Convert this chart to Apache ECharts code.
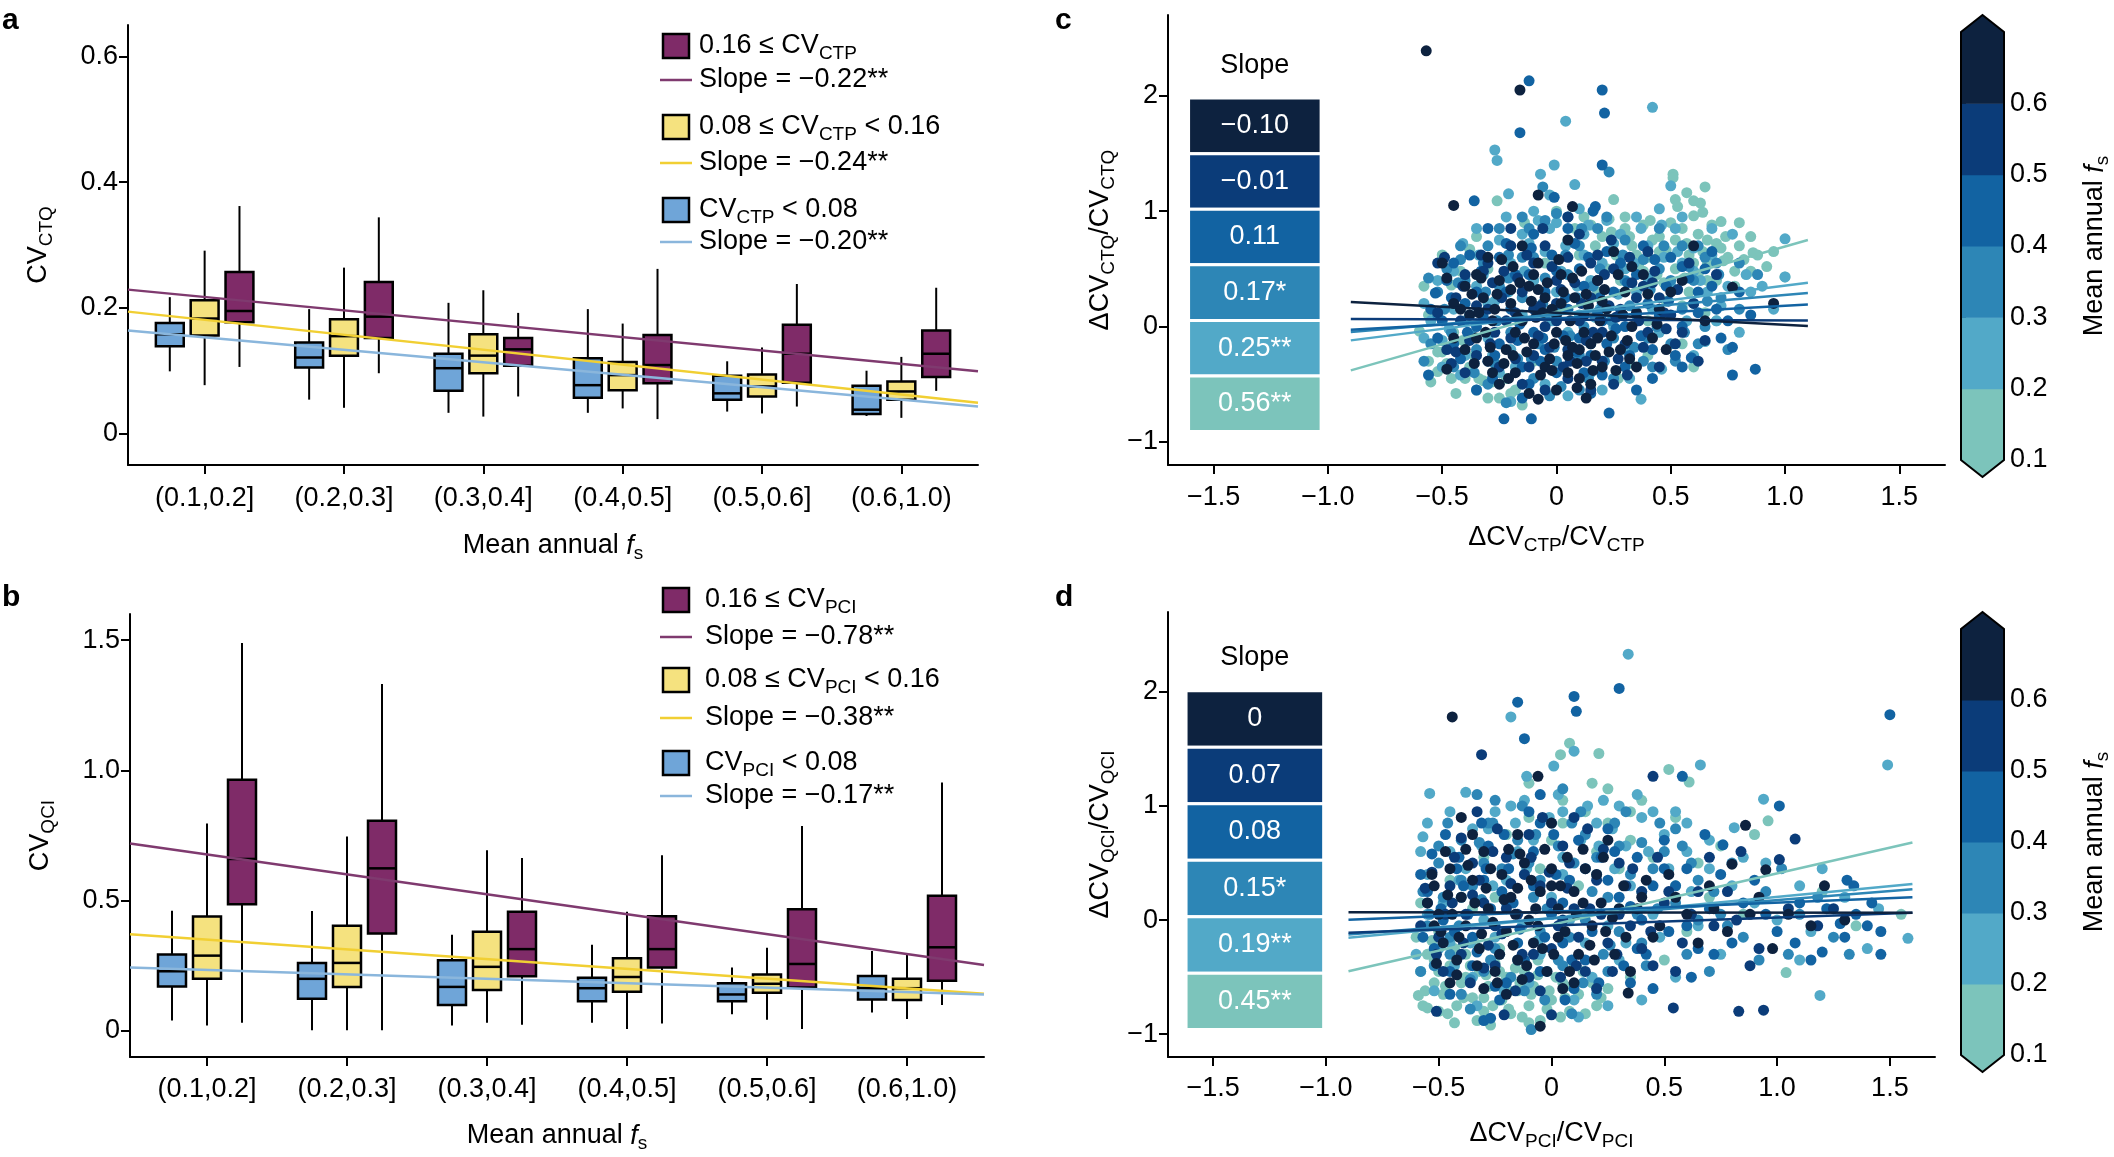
<!DOCTYPE html>
<html lang="en">
<head>
<meta charset="UTF-8">
<script src="https://cdn.jsdelivr.net/npm/echarts@6.0.0/dist/echarts.min.js"></script>
<style>
  html, body { margin: 0; padding: 0; background: #fff; }
  #main { width: 2114px; height: 1157px; }
</style>
<title>CV figure</title>
</head>
<body>
<div id="main"></div>
<script>
// ---------- data ----------
var fsCats = ['(0.1,0.2]', '(0.2,0.3]', '(0.3,0.4]', '(0.4,0.5]', '(0.5,0.6]', '(0.6,1.0)'];

// panel a, CV_CTQ boxes: [min, q1, median, q3, max] per fs class
var aLow = [[0.099,0.139,0.158,0.176,0.217],[0.054,0.105,0.121,0.145,0.198],[0.033,0.068,0.104,0.127,0.208],
            [0.033,0.057,0.077,0.120,0.198],[0.035,0.054,0.064,0.092,0.115],[0.028,0.031,0.038,0.076,0.100]];
var aMid = [[0.077,0.156,0.183,0.212,0.291],[0.041,0.124,0.155,0.182,0.264],[0.027,0.096,0.124,0.158,0.228],
            [0.040,0.069,0.093,0.114,0.175],[0.032,0.059,0.075,0.094,0.137],[0.025,0.054,0.067,0.083,0.122]];
var aHigh = [[0.106,0.177,0.195,0.257,0.362],[0.096,0.152,0.186,0.241,0.344],[0.059,0.108,0.134,0.152,0.192],
             [0.023,0.080,0.109,0.157,0.262],[0.043,0.081,0.127,0.173,0.238],[0.068,0.090,0.127,0.164,0.232]];
// regression lines (ends at the axis limits)
var aLineLow = [[0.45,0.164],[6.55,0.043]];
var aLineMid = [[0.45,0.194],[6.55,0.049]];
var aLineHigh = [[0.45,0.229],[6.55,0.099]];

// panel b, CV_QCI boxes
var bLow = [[0.040,0.171,0.229,0.293,0.461],[0.003,0.124,0.200,0.261,0.460],[0.021,0.100,0.169,0.271,0.369],
            [0.031,0.114,0.164,0.204,0.331],[0.064,0.114,0.140,0.183,0.243],[0.071,0.121,0.164,0.211,0.307]];
var bMid = [[0.021,0.200,0.289,0.439,0.796],[0.003,0.169,0.261,0.404,0.746],[0.031,0.157,0.246,0.381,0.693],
            [0.007,0.150,0.207,0.279,0.457],[0.043,0.147,0.181,0.217,0.319],[0.046,0.119,0.164,0.200,0.293]];
var bHigh = [[0.031,0.486,0.660,0.964,1.489],[0.003,0.374,0.624,0.807,1.331],[0.024,0.210,0.314,0.457,0.664],
             [0.029,0.243,0.314,0.440,0.674],[0.007,0.167,0.257,0.467,0.786],[0.100,0.193,0.321,0.519,0.953]];
var bLineLow = [[0.45,0.243],[6.55,0.140]];
var bLineMid = [[0.45,0.371],[6.55,0.143]];
var bLineHigh = [[0.45,0.719],[6.55,0.253]];

// panel c scatter, one array per mean annual fs class
var c_fs01 = [[0.51,1.32],[0.51,1.29],[0.65,1.21],[0.57,1.16],[0.60,1.09],[0.63,1.07],[0.64,0.99],[0.60,0.96],[0.52,1.10],[0.53,1.04],[0.25,1.10],[0.72,0.91],[0.80,0.90],[-0.26,1.09],[0.30,0.85],[0.38,0.88],[0.45,0.78],[0.55,0.85],[0.62,0.80],[0.70,0.72],[0.48,0.66],[0.58,0.62],[0.66,0.55],[0.75,0.60],[0.82,0.58],[0.88,0.62],[0.40,0.60],[0.33,0.70],[0.26,0.62],[0.20,0.78],[0.15,0.88],[0.52,0.50],[0.62,0.45],[0.70,0.40],[0.44,0.45],[0.36,0.52],[0.28,0.40],[0.78,0.48],[0.92,0.52],[0.86,0.64],[0.73,0.57],[0.66,0.75],[0.41,0.92],[0.23,0.93],[-0.14,0.90],[-0.60,-0.04],[-0.56,-0.30],[-0.52,-0.39],[-0.38,0.67],[-0.42,0.48],[-0.32,-0.47],[-0.28,-0.48],[-0.50,-0.22],[-0.45,-0.05],[-0.38,-0.35],[-0.35,-0.55],[-0.25,-0.62],[-0.18,-0.55],[-0.46,0.36],[-0.30,0.50],[0.32,-0.32],[0.27,-0.45],[0.10,0.62],[0.05,0.75],[-0.05,0.55],[0.18,0.30],[0.58,0.30],[0.48,0.22],[1.00,0.43],[0.65,0.12],[-0.10,-0.30],[0.05,-0.20],[0.55,-0.15],[0.40,0.05],
  [0.35,0.62],[0.42,0.75],[0.50,0.90],[0.57,0.72],[0.64,0.65],[0.68,0.88],[0.74,0.78],[0.80,0.70],[0.85,0.48],[0.47,0.38],[0.56,0.42],[0.30,0.95],[0.22,0.50],[0.12,0.95],[-0.55,-0.48],[-0.48,-0.32],[-0.44,-0.58],[-0.40,-0.45],[-0.36,-0.25],[-0.30,-0.62],[-0.22,-0.45],[-0.15,-0.68],[-0.58,0.35],[-0.50,0.62],[-0.35,0.78],[0.00,1.00],[0.95,0.65],[0.70,0.05],[0.40,-0.25],[0.60,-0.35],
  [0.32,0.78],[0.38,0.48],[0.45,0.65],[0.52,0.75],[0.60,0.55],[0.66,0.40],[0.72,0.68],[0.78,0.35],[0.24,0.82],[0.17,0.70],[-0.52,-0.22],[-0.46,-0.45],[-0.41,-0.12],[-0.34,-0.45],[-0.27,-0.32],[-0.20,-0.58],[-0.56,0.10],[0.55,0.18],[0.85,0.78],[0.08,0.85]];
var c_fs02 = [[0.42,1.90],[0.04,1.78],[-0.27,1.53],[-0.26,1.44],[-0.01,1.40],[-0.07,1.32],[0.08,1.23],[0.50,1.22],[-0.03,1.14],[-0.21,1.15],[1.00,0.76],[1.00,0.43],[0.65,-0.13],[0.46,-0.37],[0.37,-0.63],[0.35,0.95],[0.45,1.02],[0.55,0.95],[0.68,0.85],[-0.10,1.00],[0.10,1.02],[-0.35,0.85],[-0.25,0.75],[-0.15,0.80],[0.00,0.90],[0.12,0.80],[0.25,0.72],[0.40,0.70],[0.60,0.68],[0.75,0.35],[0.85,0.30],[0.60,0.20],[0.50,0.35],[0.35,0.30],[0.20,0.55],[-0.05,0.65],[-0.20,0.55],[-0.35,0.35],[-0.45,0.15],[-0.55,0.05],[-0.50,-0.12],[-0.40,-0.25],[-0.30,-0.10],[-0.15,0.10],[0.00,0.30],[0.10,0.10],[0.25,0.00],[0.45,-0.05],[0.60,-0.25],[0.30,-0.20],[0.15,-0.40],[-0.05,-0.50],[-0.25,-0.40],[-0.42,-0.42],[-0.20,-0.65],[0.05,-0.60],[0.20,-0.55],[0.70,0.05],[0.80,-0.05],[0.95,0.15],[-0.58,0.20],[0.30,0.50],[0.15,0.40],[-0.10,0.40],[-0.30,0.20],[0.55,0.55],[0.05,-0.05],[-0.20,-0.20],
  [-0.52,0.40],[-0.47,-0.02],[-0.41,0.72],[-0.36,-0.32],[-0.32,0.45],[-0.27,0.22],[-0.22,0.95],[-0.18,-0.35],[-0.12,0.72],[-0.08,-0.12],[-0.03,0.85],[0.02,0.48],[0.07,-0.28],[0.12,0.62],[0.17,0.08],[0.22,0.92],[0.27,0.28],[0.32,-0.45],[0.37,0.85],[0.42,0.15],[0.47,0.60],[0.52,0.85],[0.57,0.05],[0.63,0.40],[0.68,0.62],[0.72,0.18],[0.77,0.80],[0.83,0.45],[0.90,0.35],[-0.58,-0.10],
  [-0.45,0.48],[-0.40,0.05],[-0.34,0.62],[-0.28,-0.25],[-0.21,0.30],[-0.14,0.48],[-0.08,0.92],[-0.02,0.05],[0.04,0.70],[0.09,0.35],[0.14,0.88],[0.19,0.15],[0.28,0.80],[0.34,0.55],[0.40,0.42],[0.46,0.88],[0.53,0.65],[0.60,0.48],[0.66,0.30],[-0.50,-0.35]];
var c_fs03 = [[0.23,1.34],[-0.06,1.21],[-0.22,-0.66],[-0.03,-0.60],[-0.48,0.50],[-0.40,0.40],[-0.30,0.70],[-0.15,0.95],[0.00,0.98],[0.18,0.85],[0.30,0.75],[0.45,0.85],[0.55,0.70],[0.65,0.60],[0.72,0.25],[0.80,0.15],[0.65,0.00],[0.50,-0.15],[0.38,-0.30],[0.25,-0.45],[0.10,-0.55],[-0.10,-0.45],[-0.30,-0.50],[-0.45,-0.35],[-0.55,-0.15],[-0.52,0.30],[-0.38,0.10],[-0.25,0.35],[-0.10,0.60],[0.05,0.45],[0.20,0.20],[0.35,0.10],[0.45,0.50],[0.60,0.40],[0.15,-0.15],[-0.05,0.10],[-0.20,-0.05],[-0.35,-0.20],[0.00,-0.30],[0.30,0.40],[0.40,-0.10],[0.55,0.15],[-0.15,0.25],[0.10,0.70],[-0.25,0.85],[0.25,-0.10],[0.88,0.45],[0.75,-0.20],[-0.42,0.70],[0.12,0.00],[-0.08,-0.15],
  [-0.52,0.10],[-0.46,-0.05],[-0.42,0.58],[-0.36,-0.40],[-0.31,0.30],[-0.26,0.05],[-0.21,0.62],[-0.17,-0.28],[-0.12,0.85],[-0.06,0.20],[-0.01,-0.18],[0.04,0.62],[0.09,0.25],[0.14,-0.45],[0.19,0.50],[0.24,0.05],[0.29,0.62],[0.34,-0.18],[0.41,0.32],[0.47,0.70],[0.52,-0.30],[0.58,0.52],[0.66,0.22],[0.71,0.45],[0.80,0.55],[-0.05,0.92],[0.22,0.95],[0.62,-0.15],[-0.58,-0.30],[0.10,-0.25],
  [-0.49,0.15],[-0.43,0.38],[-0.37,-0.08],[-0.32,0.55],[-0.27,-0.32],[-0.21,0.42],[-0.15,0.60],[-0.11,-0.28],[-0.05,0.42],[0.01,0.15],[0.06,-0.08],[0.11,0.85],[0.16,0.35],[0.21,-0.30],[0.27,0.48],[0.32,0.18],[0.38,0.58],[0.44,0.00],[0.50,0.40],[0.56,-0.05],[0.62,0.70],[0.70,0.55],[-0.56,0.42],[0.02,-0.52],[0.42,-0.35]];
var c_fs04 = [[-0.12,2.13],[0.20,2.05],[0.21,1.85],[-0.16,1.68],[0.20,1.40],[-0.01,1.12],[-0.36,1.09],[0.17,1.04],[0.16,1.00],[0.77,-0.42],[0.87,-0.37],[0.59,-0.27],[0.23,-0.75],[-0.23,-0.80],[-0.11,-0.80],[-0.56,-0.42],[-0.53,0.29],[0.77,-0.18],[-0.45,0.55],[-0.35,0.30],[-0.25,0.60],[-0.10,0.80],[0.05,0.85],[0.22,0.65],[0.35,0.45],[0.50,0.60],[0.62,0.30],[0.70,0.15],[0.55,0.00],[0.42,-0.20],[0.30,-0.35],[0.15,-0.25],[0.00,-0.40],[-0.15,-0.35],[-0.30,-0.30],[-0.45,-0.15],[-0.50,0.05],[-0.40,0.20],[-0.20,0.15],[-0.05,0.30],[0.10,0.50],[0.25,0.30],[0.40,0.20],[0.20,0.05],[0.05,0.15],[-0.10,-0.05],[-0.25,-0.15],[0.30,0.00],[0.48,0.35],[-0.35,0.00],[0.65,0.50],[0.80,0.30],[0.72,-0.10],[0.10,-0.10],[-0.18,0.45],[0.12,0.35],[-0.05,-0.20],[0.35,-0.55],[-0.35,-0.55],
  [-0.48,0.40],[-0.42,-0.28],[-0.38,0.62],[-0.32,0.08],[-0.28,-0.45],[-0.22,0.72],[-0.17,-0.12],[-0.12,0.45],[-0.07,-0.30],[-0.02,0.62],[0.03,-0.08],[0.08,0.72],[0.12,-0.40],[0.18,0.12],[0.22,-0.15],[0.28,0.55],[0.32,-0.25],[0.38,0.70],[0.45,0.10],[0.52,-0.25],[0.58,0.42],[0.68,0.65],[0.75,0.05],[-0.55,0.15],[0.05,0.95],[-0.30,0.85],[0.15,-0.58],[-0.15,-0.62],[0.42,-0.45],[0.85,0.10],
  [-0.46,0.25],[-0.39,-0.05],[-0.33,0.48],[-0.27,-0.25],[-0.22,0.30],[-0.16,0.02],[-0.11,0.68],[-0.06,-0.10],[0.00,0.48],[0.04,0.25],[0.09,-0.22],[0.14,0.60],[0.19,0.25],[0.26,-0.02],[0.31,0.38],[0.37,-0.08],[0.43,0.58],[0.49,0.22],[0.55,0.52],[0.62,0.12],[-0.52,-0.10],[-0.12,-0.50],[0.20,-0.42],[0.55,-0.35],[0.68,0.35]];
var c_fs05 = [[-0.49,0.60],[-0.52,0.55],[-0.40,0.45],[-0.30,0.55],[-0.20,0.70],[-0.10,0.55],[0.05,0.60],[0.15,0.55],[0.25,0.50],[0.38,0.35],[0.45,0.25],[0.50,0.10],[0.40,-0.05],[0.30,-0.15],[0.20,-0.30],[0.05,-0.20],[-0.10,-0.25],[-0.25,-0.35],[-0.40,-0.40],[-0.48,-0.20],[-0.42,0.05],[-0.30,0.15],[-0.15,0.30],[0.00,0.40],[0.15,0.25],[0.28,0.15],[0.10,0.05],[-0.05,0.00],[-0.20,-0.10],[0.20,-0.05],[0.35,0.25],[-0.10,0.15],[0.05,-0.45],[-0.15,-0.50],[0.25,-0.50],[0.45,-0.35],[0.60,0.20],[0.70,0.45],[-0.35,-0.25],[0.00,0.20],[-0.28,0.38],[0.32,0.60],[0.55,-0.05],[0.10,0.80],[-0.05,0.70],[0.62,-0.30],[0.18,0.40],[-0.22,0.05],
  [-0.44,0.25],[-0.38,-0.12],[-0.33,0.62],[-0.27,-0.05],[-0.23,0.48],[-0.18,-0.28],[-0.13,0.62],[-0.08,-0.08],[-0.02,0.52],[0.03,-0.35],[0.08,0.38],[0.13,-0.12],[0.18,0.62],[0.23,0.18],[0.27,-0.28],[0.33,0.38],[0.38,-0.18],[0.43,0.48],[0.48,-0.02],[0.53,0.32],[-0.46,-0.32],[-0.05,-0.55],[0.15,-0.55],[0.40,0.65],[-0.20,0.85],[0.05,0.95],[0.58,0.55],[0.65,-0.12],[-0.52,0.12],[0.00,0.05],
  [-0.41,0.35],[-0.35,0.18],[-0.29,-0.15],[-0.24,0.25],[-0.17,0.42],[-0.12,-0.35],[-0.07,0.18],[-0.03,-0.18],[0.02,0.32],[0.06,-0.30],[0.11,0.20],[0.16,-0.05],[0.21,0.45],[0.26,0.08],[0.31,-0.42],[0.36,0.05],[0.42,0.38],[0.47,0.12],[0.52,-0.15],[-0.44,-0.22],[-0.32,0.48],[-0.06,0.85],[0.24,0.75],[0.13,-0.30],[-0.18,0.12]];
var c_fs06 = [[-0.57,2.39],[-0.16,2.05],[-0.08,1.14],[-0.45,1.05],[0.07,1.04],[0.77,0.34],[0.95,0.20],[-0.08,-0.63],[0.09,-0.53],[-0.48,-0.37],[-0.50,0.55],[-0.48,0.42],[-0.45,0.20],[-0.40,0.35],[-0.38,0.10],[-0.35,-0.10],[-0.32,0.25],[-0.30,-0.30],[-0.28,0.05],[-0.25,0.40],[-0.22,-0.20],[-0.20,0.20],[-0.18,-0.40],[-0.15,0.05],[-0.12,0.35],[-0.10,-0.15],[-0.08,0.55],[-0.05,-0.35],[-0.02,0.15],[0.00,-0.05],[0.02,0.45],[0.05,-0.25],[0.08,0.25],[0.10,-0.45],[0.12,0.10],[0.15,-0.15],[0.18,0.40],[0.20,-0.35],[0.22,0.15],[0.25,0.65],[0.28,-0.20],[0.30,0.30],[0.33,0.00],[0.38,0.45],[0.42,-0.10],[0.45,0.15],[0.50,0.30],[0.55,0.40],[0.60,0.70],[0.65,0.05],[-0.30,0.60],[-0.15,0.70],[0.05,0.75],[-0.25,-0.50],[0.00,-0.55],[0.15,-0.50],[-0.40,-0.20],[-0.05,0.25],[0.12,-0.05],[-0.18,-0.05],[0.35,-0.35],[-0.35,0.45],
  [-0.33,0.42],[-0.27,0.15],[-0.23,-0.32],[-0.19,0.52],[-0.17,0.08],[-0.13,-0.22],[-0.11,0.22],[-0.07,-0.42],[-0.04,0.38],[-0.01,-0.15],[0.03,0.30],[0.06,0.05],[0.09,-0.32],[0.11,0.48],[0.14,0.18],[0.17,-0.25],[0.21,0.32],[0.24,-0.08],[0.27,0.45],[0.31,-0.12],[0.35,0.12],[0.40,0.28],[-0.36,-0.32],[-0.42,0.15],[-0.29,-0.18],[-0.26,0.28],[-0.21,-0.45],[-0.16,0.38],[-0.09,0.08],[-0.03,-0.28],[0.01,0.58],[0.07,-0.18],[0.19,0.05],[0.26,-0.38],[0.33,0.52],[0.44,0.02],[-0.12,-0.58],[0.13,-0.62],[0.48,-0.20],[-0.45,-0.10],
  [-0.37,0.28],[-0.31,-0.05],[-0.24,0.58],[-0.20,0.32],[-0.14,-0.10],[-0.10,0.45],[-0.06,0.12],[-0.02,-0.38],[0.02,0.20],[0.04,-0.12],[0.07,0.42],[0.10,-0.20],[0.13,0.28],[0.16,-0.38],[0.20,0.22],[0.23,-0.22],[0.29,0.10],[0.32,-0.28],[-0.34,0.12],[-0.28,-0.40],[-0.19,-0.25],[-0.08,0.32],[0.00,0.10],[0.05,-0.40],[0.18,-0.10]];
// fitted lines per class, ends at x = -0.9 and 1.1
var cLines = [[[-0.9,-0.380],[1.1,0.750]],[[-0.9,-0.120],[1.1,0.380]],[[-0.9,-0.047],[1.1,0.290]],
              [[-0.9,-0.028],[1.1,0.190]],[[-0.9,0.066],[1.1,0.052]],[[-0.9,0.213],[1.1,0.005]]];
var cSlopes = ['\u22120.10', '\u22120.01', '0.11', '0.17*', '0.25**', '0.56**']; // top row = highest fs

// panel d scatter
var d_fs01 = [[0.08,1.55],[0.04,1.45],[0.21,1.46],[0.52,1.32],[0.61,1.21],[0.96,0.87],[1.04,-0.46],[-0.55,-0.77],[-0.59,-0.66],[-0.50,-0.80],[-0.58,-0.45],[-0.55,-0.30],[-0.52,-0.55],[-0.48,-0.65],[-0.45,-0.40],[-0.42,-0.75],[-0.40,-0.55],[-0.38,-0.30],[-0.35,-0.68],[-0.32,-0.45],[-0.30,-0.80],[-0.28,-0.58],[-0.25,-0.38],[-0.22,-0.70],[-0.20,-0.50],[-0.18,-0.82],[-0.15,-0.62],[-0.12,-0.45],[-0.10,-0.75],[-0.08,-0.58],[-0.05,-0.88],[0.00,-0.70],[0.05,-0.55],[0.08,-0.80],[0.12,-0.65],[-0.60,-0.15],[-0.50,-0.10],[0.20,-0.75],[-0.45,0.35],[-0.30,0.55],[-0.20,0.75],[-0.10,0.90],[0.05,1.05],[0.15,0.95],[0.25,0.85],[0.00,0.70],[-0.05,0.45],[0.20,0.60],[0.35,0.70],[0.45,0.55],[0.55,0.30],[0.65,0.50],[0.70,0.20],[0.40,0.25],[0.30,0.10],[0.60,-0.10],[0.85,0.05],[0.50,-0.35],[0.35,-0.50],[-0.35,0.10],[0.12,0.30],[0.75,0.65],[0.90,0.75],[1.20,0.25],[1.35,-0.05],[1.55,0.05],[0.18,1.20],[0.25,1.15],
  [-0.56,-0.62],[-0.53,-0.18],[-0.50,-0.45],[-0.46,-0.82],[-0.43,-0.25],[-0.39,-0.68],[-0.36,-0.40],[-0.33,-0.88],[-0.29,-0.48],[-0.26,-0.75],[-0.23,-0.25],[-0.19,-0.62],[-0.16,-0.42],[-0.13,-0.85],[-0.09,-0.65],[-0.06,-0.35],[-0.02,-0.78],[0.02,-0.50],[0.06,-0.68],[0.10,-0.40],[0.15,-0.82],[0.18,-0.55],[0.25,-0.60],[-0.10,1.20],[0.40,1.05],[0.55,0.90],[0.30,0.45],[-0.25,0.20],[0.15,0.05],[-0.58,0.15],
  [-0.57,-0.75],[-0.52,-0.35],[-0.47,-0.58],[-0.43,-0.90],[-0.38,-0.50],[-0.34,-0.20],[-0.30,-0.68],[-0.27,-0.92],[-0.23,-0.45],[-0.19,-0.78],[-0.14,-0.55],[-0.10,-0.90],[-0.06,-0.48],[-0.01,-0.62],[0.04,-0.85],[0.09,-0.58],[0.14,-0.45],[0.22,-0.68],[0.35,0.95],[0.05,0.85]];
var d_fs02 = [[0.34,2.33],[-0.18,1.78],[1.49,1.36],[0.10,1.48],[0.01,1.35],[-0.11,1.26],[0.66,1.36],[-0.54,1.11],[-0.38,1.12],[0.94,1.06],[0.81,0.81],[-0.57,0.73],[1.20,0.45],[1.58,-0.16],[1.19,-0.66],[0.12,-0.85],[0.40,-0.70],[-0.55,0.40],[-0.45,0.60],[-0.35,0.80],[-0.25,0.95],[-0.12,1.05],[0.05,0.95],[0.20,0.85],[0.30,1.00],[0.40,0.90],[0.50,0.75],[0.60,0.60],[0.70,0.45],[0.80,0.30],[0.90,0.15],[1.00,0.00],[1.15,-0.10],[1.30,0.20],[1.40,-0.25],[0.75,-0.30],[0.55,-0.50],[0.30,-0.35],[0.15,-0.20],[-0.05,-0.30],[-0.25,-0.15],[-0.45,-0.20],[-0.55,0.05],[-0.40,0.20],[-0.20,0.35],[0.00,0.20],[0.20,0.40],[0.35,0.30],[0.45,0.05],[0.25,-0.05],[0.05,0.55],[-0.15,0.60],[-0.30,0.00],[-0.35,-0.50],[-0.10,-0.55],[0.60,0.85],[0.95,0.50],[1.10,0.30],[0.65,-0.05],
  [-0.58,0.60],[-0.52,-0.62],[-0.48,0.15],[-0.43,-0.40],[-0.38,0.45],[-0.33,-0.75],[-0.28,0.80],[-0.23,-0.30],[-0.18,1.00],[-0.13,-0.05],[-0.08,0.70],[-0.02,-0.45],[0.03,1.10],[0.08,0.00],[0.13,0.70],[0.18,-0.50],[0.23,1.05],[0.28,0.45],[0.33,-0.20],[0.38,1.10],[0.43,0.60],[0.48,-0.15],[0.55,0.95],[0.62,0.25],[0.70,0.70],[0.85,0.55],[1.10,-0.35],[1.45,0.10],[-0.60,-0.30],[0.25,-0.75],
  [-0.55,0.85],[-0.50,-0.25],[-0.45,0.95],[-0.41,0.35],[-0.36,-0.20],[-0.31,0.65],[-0.26,0.30],[-0.21,-0.62],[-0.16,0.85],[-0.11,0.45],[-0.06,-0.18],[-0.01,0.90],[0.05,0.40],[0.10,-0.70],[0.16,1.00],[0.21,0.65],[0.27,0.80],[0.33,0.65],[0.45,0.95],[0.52,0.45]];
var d_fs03 = [[-0.09,-0.96],[0.09,-0.82],[-0.50,0.50],[-0.40,0.70],[-0.28,0.85],[-0.15,0.70],[0.00,0.85],[0.15,0.75],[0.30,0.65],[0.45,0.45],[0.55,0.15],[0.65,0.35],[0.75,0.05],[0.85,-0.15],[0.95,0.25],[1.10,0.05],[1.25,-0.15],[0.60,-0.30],[0.40,-0.20],[0.25,-0.45],[0.05,-0.40],[-0.15,-0.35],[-0.30,-0.45],[-0.45,-0.30],[-0.55,-0.05],[-0.48,0.20],[-0.35,0.30],[-0.20,0.15],[-0.05,0.35],[0.10,0.50],[0.25,0.20],[0.38,0.05],[0.15,0.00],[-0.05,-0.10],[-0.25,-0.25],[0.20,-0.65],[-0.40,-0.65],[0.50,0.60],[0.80,0.50],[-0.10,0.50],[0.30,-0.10],[1.05,-0.30],[-0.30,0.50],[0.70,-0.45],
  [-0.57,0.25],[-0.52,-0.40],[-0.46,0.85],[-0.41,-0.05],[-0.36,-0.78],[-0.32,0.68],[-0.27,-0.35],[-0.22,0.45],[-0.18,-0.50],[-0.13,1.00],[-0.08,0.20],[-0.03,-0.70],[0.03,0.65],[0.08,-0.15],[0.13,0.95],[0.18,0.25],[0.23,-0.30],[0.28,0.85],[0.35,0.40],[0.42,-0.40],[0.48,0.85],[0.58,0.65],[0.65,0.00],[0.78,-0.05],[0.92,-0.35],[1.02,0.45],[1.18,0.20],[1.32,-0.30],[0.05,1.15],[-0.25,1.05],
  [-0.58,-0.45],[-0.54,0.05],[-0.50,0.65],[-0.45,-0.15],[-0.40,0.35],[-0.36,-0.52],[-0.31,0.18],[-0.26,0.85],[-0.22,-0.12],[-0.17,0.58],[-0.12,-0.62],[-0.07,0.75],[-0.02,0.10],[0.03,-0.35],[0.09,0.85],[0.14,-0.55],[0.20,0.55],[0.26,-0.22],[0.33,0.95],[0.40,0.68],[0.47,0.10],[0.55,0.80],[0.62,0.50],[0.72,0.25],[-0.33,1.10]];
var d_fs04 = [[0.30,2.03],[0.10,1.96],[0.11,1.83],[-0.15,1.91],[-0.12,1.59],[1.50,1.80],[0.58,1.26],[1.01,1.00],[0.76,0.66],[1.31,0.35],[1.34,0.30],[1.46,-0.10],[1.40,-0.05],[1.46,-0.30],[1.30,-0.15],[1.20,-0.28],[1.28,-0.03],[1.35,0.05],[-0.30,-0.88],[-0.27,-0.86],[-0.55,0.25],[-0.48,0.00],[-0.42,0.45],[-0.35,-0.15],[-0.28,0.65],[-0.22,0.25],[-0.15,-0.20],[-0.08,0.60],[0.00,0.05],[0.08,0.35],[0.15,-0.35],[0.22,0.55],[0.30,0.20],[0.38,-0.25],[0.45,0.30],[0.52,-0.10],[0.60,0.45],[0.70,0.10],[0.80,-0.20],[0.90,0.35],[1.00,-0.10],[1.10,0.15],[1.15,-0.35],[0.35,-0.55],[0.10,-0.60],[-0.20,-0.55],[-0.45,-0.45],[-0.05,0.85],[0.25,0.80],[0.50,0.70],[0.65,-0.25],[0.85,0.15],[-0.30,0.35],[0.05,-0.20],[0.40,0.00],
  [-0.58,0.40],[-0.52,-0.25],[-0.47,0.75],[-0.43,-0.10],[-0.39,0.30],[-0.35,-0.40],[-0.31,0.85],[-0.27,0.10],[-0.23,-0.70],[-0.19,0.45],[-0.14,-0.08],[-0.10,0.95],[-0.05,-0.45],[0.02,0.40],[0.06,-0.70],[0.12,0.70],[0.18,-0.10],[0.25,0.35],[0.32,-0.40],[0.38,0.55],[0.45,-0.60],[0.55,0.30],[0.62,-0.50],[0.75,0.40],[0.95,0.05],[1.08,-0.20],[1.22,0.10],[1.42,0.15],[0.68,0.75],[-0.05,1.10],
  [-0.57,-0.15],[-0.53,0.58],[-0.49,0.10],[-0.45,-0.65],[-0.41,0.55],[-0.37,0.05],[-0.33,-0.28],[-0.29,0.45],[-0.25,-0.58],[-0.21,0.75],[-0.17,0.15],[-0.12,-0.35],[-0.08,0.30],[-0.03,-0.15],[0.01,0.75],[0.05,0.15],[0.09,-0.35],[0.15,0.45],[0.21,-0.55],[0.28,0.60],[0.35,0.12],[0.42,-0.30],[0.50,0.45],[0.60,-0.05],[0.72,-0.30]];
var d_fs05 = [[-0.31,1.45],[0.45,1.26],[1.08,0.71],[0.84,0.60],[1.01,0.53],[0.94,-0.79],[0.83,-0.80],[0.54,-0.77],[0.00,-0.83],[-0.21,-0.83],[-0.51,-0.80],[-0.55,0.15],[-0.50,-0.15],[-0.45,0.30],[-0.40,-0.30],[-0.35,0.50],[-0.30,0.15],[-0.25,-0.40],[-0.20,0.55],[-0.15,0.05],[-0.10,-0.50],[-0.05,0.30],[0.00,-0.25],[0.05,0.65],[0.10,0.10],[0.15,-0.45],[0.20,0.35],[0.25,-0.20],[0.30,0.50],[0.35,-0.05],[0.40,0.25],[0.45,-0.40],[0.50,0.15],[0.58,-0.20],[0.65,0.25],[0.72,-0.05],[0.82,0.00],[0.92,-0.25],[1.05,0.10],[1.18,-0.05],[-0.38,0.05],[-0.10,0.75],[0.20,-0.60],[0.05,0.00],[-0.25,-0.05],[0.30,0.05],
  [-0.58,-0.05],[-0.53,0.42],[-0.48,-0.45],[-0.44,0.15],[-0.40,0.72],[-0.36,-0.55],[-0.32,0.35],[-0.28,-0.22],[-0.24,0.80],[-0.20,0.10],[-0.16,-0.62],[-0.12,0.40],[-0.08,-0.30],[-0.04,0.90],[0.00,0.15],[0.04,-0.50],[0.08,0.50],[0.12,-0.15],[0.16,0.80],[0.22,0.05],[0.27,-0.45],[0.33,0.30],[0.40,-0.25],[0.47,0.55],[0.55,-0.45],[0.62,0.05],[0.70,0.55],[0.78,0.25],[0.88,-0.40],[1.25,0.10],
  [-0.56,0.28],[-0.51,-0.30],[-0.47,0.05],[-0.43,0.55],[-0.39,-0.20],[-0.35,0.22],[-0.30,-0.42],[-0.26,0.60],[-0.22,-0.12],[-0.18,0.32],[-0.13,-0.30],[-0.09,0.55],[-0.05,-0.62],[-0.01,0.42],[0.03,-0.05],[0.07,0.28],[0.11,-0.40],[0.17,0.10],[0.23,0.62],[0.29,-0.30],[0.36,0.45],[0.44,-0.10],[0.52,0.25],[-0.33,0.95],[0.10,0.90]];
var d_fs06 = [[-0.44,1.78],[-0.06,1.26],[0.86,0.83],[0.80,0.49],[0.95,0.44],[1.21,0.30],[0.98,-0.25],[0.34,-0.64],[-0.05,-0.93],[1.30,0.00],[1.15,-0.05],[-0.52,0.30],[-0.50,0.05],[-0.48,-0.20],[-0.45,0.45],[-0.42,-0.35],[-0.40,0.20],[-0.38,-0.05],[-0.35,0.35],[-0.32,-0.25],[-0.30,0.60],[-0.28,0.10],[-0.25,-0.45],[-0.22,0.40],[-0.20,-0.10],[-0.18,0.20],[-0.15,-0.35],[-0.12,0.50],[-0.10,0.00],[-0.08,-0.20],[-0.05,0.25],[-0.02,-0.45],[0.00,0.45],[0.03,0.10],[0.06,-0.10],[0.10,0.25],[0.12,-0.30],[0.15,0.45],[0.18,-0.05],[0.22,0.15],[0.28,-0.30],[0.32,0.30],[0.38,0.10],[0.45,-0.15],[0.52,0.40],[0.60,0.05],[0.70,0.30],[0.78,-0.10],[0.88,0.05],[-0.45,-0.55],[-0.15,0.75],[0.05,-0.60],[-0.35,0.75],
  [-0.55,0.15],[-0.51,-0.38],[-0.47,0.60],[-0.44,0.05],[-0.41,-0.15],[-0.37,0.48],[-0.33,-0.40],[-0.29,0.28],[-0.26,-0.02],[-0.23,-0.30],[-0.19,0.62],[-0.16,0.05],[-0.13,-0.52],[-0.09,0.35],[-0.06,-0.05],[-0.03,0.62],[0.01,-0.30],[0.04,0.30],[0.08,-0.45],[0.11,0.05],[0.14,0.62],[0.17,-0.22],[0.20,0.40],[0.24,-0.10],[0.30,0.10],[0.35,-0.45],[0.42,0.35],[0.48,-0.05],[-0.40,0.90],[-0.20,-0.65],[0.00,0.85],[0.25,0.70],[-0.52,-0.05],[-0.30,-0.60],[0.55,0.20],[0.65,-0.20],[0.72,0.10],[1.05,0.05],[0.92,0.20],[-0.15,0.28],
  [-0.53,0.40],[-0.49,-0.10],[-0.46,0.22],[-0.42,-0.48],[-0.38,0.62],[-0.34,0.15],[-0.31,-0.12],[-0.27,0.45],[-0.24,-0.55],[-0.21,0.18],[-0.17,-0.22],[-0.14,0.58],[-0.11,-0.40],[-0.07,0.10],[-0.04,-0.25],[0.00,0.30],[0.03,-0.15],[0.07,0.55],[0.10,-0.55],[0.14,0.15],[0.19,-0.35],[0.23,0.55],[0.27,0.02],[0.33,-0.15],[0.40,0.20]];
var dLines = [[[-0.9,-0.448],[1.6,0.680]],[[-0.9,-0.154],[1.6,0.317]],[[-0.9,-0.127],[1.6,0.271]],
              [[-0.9,0.003],[1.6,0.200]],[[-0.9,-0.111],[1.6,0.065]],[[-0.9,0.069],[1.6,0.065]]];
var dSlopes = ['0', '0.07', '0.08', '0.15*', '0.19**', '0.45**'];

// colour bar classes of mean annual fs
var fsBands = [[0.1,0.2],[0.2,0.3],[0.3,0.4],[0.4,0.5],[0.5,0.6],[0.6,0.7]];

// ---------- style ----------
var FONT = "'Liberation Sans', Arial, Helvetica, sans-serif";
var FS = 27;
var fsColors = ['#7cc4bb', '#52a9c8', '#2d86b6', '#1263a2', '#0b3c79', '#0d223f'];
var boxColors = { low: '#6fa5d8', mid: '#f5e27f', high: '#7f2b68' };
var fitColors = { low: '#8ab6dc', mid: '#f1cf33', high: '#7f3a6f' };
var RICH = {
    sub: { fontSize: 19, lineHeight: 15, verticalAlign: 'bottom', fontFamily: FONT, color: '#000' },
    it: { fontSize: FS, fontStyle: 'italic', fontFamily: FONT, color: '#000', lineHeight: 34 }
};

var chart = echarts.init(document.getElementById('main'), null, { renderer: 'canvas' });

function minus(v) { return String(v).replace('-', '\u2212'); }

function valueAxis(idx, min, max, ticks, fmt, extra, labelMargin, tickLen) {
    var ax = {
        type: 'value', gridIndex: idx, min: min, max: max,
        axisLine: { show: true, onZero: false, lineStyle: { color: '#000', width: 2 } },
        axisTick: { show: true, length: tickLen || 9, customValues: ticks, lineStyle: { color: '#000', width: 2 } },
        axisLabel: { customValues: ticks, formatter: fmt, color: '#000', fontSize: FS, fontFamily: FONT, margin: labelMargin || 10 },
        splitLine: { show: false },
        nameTextStyle: { fontSize: FS, fontFamily: FONT, color: '#000', lineHeight: 34, rich: RICH }
    };
    for (var k in extra) ax[k] = extra[k];
    return ax;
}

// box with whiskers, offset in x-axis units from the class tick
function boxRender(offset, color) {
    return function (params, api) {
        var x = api.value(0) + offset;
        var half = api.size([0.1, 0])[0];
        var pMin = api.coord([x, api.value(1)]);
        var pQ1 = api.coord([x, api.value(2)]);
        var pMed = api.coord([x, api.value(3)]);
        var pQ3 = api.coord([x, api.value(4)]);
        var pMax = api.coord([x, api.value(5)]);
        return {
            type: 'group',
            children: [
                { type: 'line', shape: { x1: pMax[0], y1: pMax[1], x2: pQ3[0], y2: pQ3[1] }, style: { stroke: '#000', lineWidth: 2 } },
                { type: 'line', shape: { x1: pQ1[0], y1: pQ1[1], x2: pMin[0], y2: pMin[1] }, style: { stroke: '#000', lineWidth: 2 } },
                { type: 'rect', shape: { x: pQ3[0] - half, y: pQ3[1], width: 2 * half, height: pQ1[1] - pQ3[1] },
                  style: { fill: color, stroke: '#000', lineWidth: 2.5 } },
                { type: 'line', shape: { x1: pMed[0] - half, y1: pMed[1], x2: pMed[0] + half, y2: pMed[1] }, style: { stroke: '#000', lineWidth: 2.5 } }
            ]
        };
    };
}

function boxSeries(idx, rows, offset, color) {
    return {
        type: 'custom', xAxisIndex: idx, yAxisIndex: idx,
        data: rows.map(function (r, i) { return [i + 1].concat(r); }),
        encode: { x: 0, y: [1, 2, 3, 4, 5] },
        renderItem: boxRender(offset, color)
    };
}

function fitSeries(idx, pts, color, width) {
    return {
        type: 'line', xAxisIndex: idx, yAxisIndex: idx, data: pts,
        symbol: 'none', silent: true,
        lineStyle: { color: color, width: width }
    };
}

// slope table drawn inside the scatter panel (bounds in data units)
function tableSeries(idx, labels, tab) {
    return {
        type: 'custom', xAxisIndex: idx, yAxisIndex: idx,
        data: labels.map(function (s, i) { return [i]; }),
        renderItem: function (params, api) {
            var i = params.dataIndex;
            var h = (tab.top - tab.bottom) / labels.length;
            var p0 = api.coord([tab.left, tab.top - i * h]);
            var p1 = api.coord([tab.right, tab.top - (i + 1) * h]);
            var cx = (p0[0] + p1[0]) / 2;
            var kids = [
                { type: 'rect', shape: { x: p0[0], y: p0[1], width: p1[0] - p0[0], height: p1[1] - p0[1] },
                  style: { fill: fsColors[5 - i], stroke: '#fff', lineWidth: 3 } },
                { type: 'text', style: { text: labels[i], x: cx, y: (p0[1] + p1[1]) / 2, fill: '#fff',
                  fontSize: FS, fontFamily: FONT, align: 'center', verticalAlign: 'middle' } }
            ];
            if (i === 0) {
                kids.push({ type: 'text', style: { text: 'Slope', x: cx, y: p0[1] - 33, fill: '#000',
                    fontSize: FS, fontFamily: FONT, align: 'center', verticalAlign: 'middle' } });
            }
            return { type: 'group', children: kids };
        }
    };
}

function scatterSeries(idx, sets, lines) {
    var out = [];
    sets.forEach(function (pts, c) {
        out.push({ type: 'scatter', xAxisIndex: idx, yAxisIndex: idx, data: pts,
            symbolSize: 11, itemStyle: { color: fsColors[c], opacity: 1 } });
    });
    lines.forEach(function (pts, c) {
        out.push(fitSeries(idx, pts, fsColors[c], 2.5));
    });
    return out;
}

// colour bar bands plus the pointed ends
function colorbarSeries(idx) {
    var TIP = 17;
    return [{
        type: 'custom', xAxisIndex: idx, yAxisIndex: idx,
        data: fsBands.map(function (b, i) { return [b[0], b[1], i]; }),
        renderItem: function (params, api) {
            var lo = api.coord([0, api.value(0)]);
            var hi = api.coord([1, api.value(1)]);
            var c = fsColors[api.value(2)];
            var kids = [{ type: 'rect', shape: { x: lo[0], y: hi[1], width: hi[0] - lo[0], height: lo[1] - hi[1] + 0.5 },
                style: { fill: c } }];
            var mid = (lo[0] + hi[0]) / 2;
            if (params.dataIndex === 0) {
                kids.push({ type: 'polygon', shape: { points: [[lo[0], lo[1]], [hi[0], lo[1]], [mid, lo[1] + TIP]] }, style: { fill: c } });
            }
            if (params.dataIndex === fsBands.length - 1) {
                kids.push({ type: 'polygon', shape: { points: [[lo[0], hi[1]], [hi[0], hi[1]], [mid, hi[1] - TIP]] }, style: { fill: c } });
            }
            return { type: 'group', children: kids };
        }
    }, {
        type: 'custom', xAxisIndex: idx, yAxisIndex: idx,
        data: [[fsBands[0][0], fsBands[fsBands.length - 1][1]]],
        renderItem: function (params, api) {
            var lo = api.coord([0, api.value(0)]);
            var hi = api.coord([1, api.value(1)]);
            var mid = (lo[0] + hi[0]) / 2;
            return { type: 'polygon', shape: { points: [[mid, lo[1] + TIP], [lo[0], lo[1]], [lo[0], hi[1]], [mid, hi[1] - TIP],
                [hi[0], hi[1]], [hi[0], lo[1]]] }, style: { fill: 'none', stroke: '#000', lineWidth: 2 } };
        }
    }];
}

// legend made of graphic elements: boxes and fitted-line swatches
function legendGraphic(x, textX, rows) {
    var els = [];
    rows.forEach(function (r) {
        if (r.kind === 'box') {
            els.push({ type: 'rect', shape: { x: x + 3, y: r.y - 12, width: 26, height: 24 },
                style: { fill: r.color, stroke: '#000', lineWidth: 2.5 } });
        } else {
            els.push({ type: 'line', shape: { x1: x, y1: r.y, x2: x + 32, y2: r.y }, style: { stroke: r.color, lineWidth: 2.5 } });
        }
        els.push({ type: 'text', x: textX, y: r.y, style: { text: r.text, fontSize: FS, fontFamily: FONT, fill: '#000',
            lineHeight: 34, rich: RICH, align: 'left', verticalAlign: 'middle', textAlign: 'left', textVerticalAlign: 'middle' } });
    });
    return els;
}

function letter(t, x, y) {
    return { type: 'text', x: x, y: y, style: { text: t, fontSize: 30, fontWeight: 'bold', fontFamily: FONT, fill: '#000',
        align: 'left', verticalAlign: 'middle', textAlign: 'left', textVerticalAlign: 'middle' } };
}

var catFmt = function (v) { return fsCats[Math.round(v) - 1]; };
var numFmt1 = function (v) { return v === 0 ? '0' : minus(v.toFixed(1)); };
var intFmt = function (v) { return minus(v); };
var cbFmt = function (v) { return v.toFixed(1); };
var xTicksC = [-1.5, -1, -0.5, 0, 0.5, 1, 1.5];
var yTicksC = [-1, 0, 1, 2];
var cbTicks = [0.1, 0.2, 0.3, 0.4, 0.5, 0.6];

var option = {
    animation: false,
    backgroundColor: '#fff',
    grid: [
        { left: 128, top: 25, width: 850, height: 440 },
        { left: 130, top: 614, width: 854, height: 443 },
        { left: 1168, top: 15, width: 777, height: 450 },
        { left: 1168, top: 612, width: 767, height: 445 },
        { left: 1961, top: 32, width: 43, height: 428 },
        { left: 1961, top: 629, width: 43, height: 426 }
    ],
    xAxis: [
        valueAxis(0, 0.45, 6.55, [1, 2, 3, 4, 5, 6], catFmt, { name: 'Mean annual {it|f}{sub|s}', nameLocation: 'middle', nameGap: 64 }, 20),
        valueAxis(1, 0.45, 6.55, [1, 2, 3, 4, 5, 6], catFmt, { name: 'Mean annual {it|f}{sub|s}', nameLocation: 'middle', nameGap: 62 }, 19),
        valueAxis(2, -1.7, 1.7, xTicksC, numFmt1, { name: '\u0394CV{sub|CTP}/CV{sub|CTP}', nameLocation: 'middle', nameGap: 56 }, 19),
        valueAxis(3, -1.7, 1.7, xTicksC, numFmt1, { name: '\u0394CV{sub|PCI}/CV{sub|PCI}', nameLocation: 'middle', nameGap: 60 }, 18),
        { type: 'value', gridIndex: 4, min: 0, max: 1, show: false },
        { type: 'value', gridIndex: 5, min: 0, max: 1, show: false }
    ],
    yAxis: [
        valueAxis(0, -0.05, 0.65, [0, 0.2, 0.4, 0.6], numFmt1, { name: 'CV{sub|CTQ}', nameLocation: 'middle', nameRotate: 90, nameGap: 72 }),
        valueAxis(1, -0.1, 1.6, [0, 0.5, 1, 1.5], numFmt1, { name: 'CV{sub|QCI}', nameLocation: 'middle', nameRotate: 90, nameGap: 72 }),
        valueAxis(2, -1.2, 2.7, yTicksC, intFmt, { name: '\u0394CV{sub|CTQ}/CV{sub|CTQ}', nameLocation: 'middle', nameRotate: 90, nameGap: 50 }),
        valueAxis(3, -1.2, 2.7, yTicksC, intFmt, { name: '\u0394CV{sub|QCI}/CV{sub|QCI}', nameLocation: 'middle', nameRotate: 90, nameGap: 50 }),
        valueAxis(4, 0.1, 0.7, cbTicks, cbFmt, {
            position: 'right', name: 'Mean annual {it|f}{sub|s}', nameLocation: 'middle', nameRotate: 90, nameGap: 74,
            axisLine: { show: false } }, 6, 5),
        valueAxis(5, 0.1, 0.7, cbTicks, cbFmt, {
            position: 'right', name: 'Mean annual {it|f}{sub|s}', nameLocation: 'middle', nameRotate: 90, nameGap: 74,
            axisLine: { show: false } }, 6, 5)
    ],
    graphic: [].concat(
        [letter('a', 2, 21), letter('b', 2, 598), letter('c', 1055, 21), letter('d', 1055, 598)],
        legendGraphic(660, 699, [
            { kind: 'box', y: 46, color: boxColors.high, text: '0.16 \u2264 CV{sub|CTP}' },
            { kind: 'line', y: 80, color: fitColors.high, text: 'Slope = \u22120.22**' },
            { kind: 'box', y: 127, color: boxColors.mid, text: '0.08 \u2264 CV{sub|CTP} < 0.16' },
            { kind: 'line', y: 163, color: fitColors.mid, text: 'Slope = \u22120.24**' },
            { kind: 'box', y: 210, color: boxColors.low, text: 'CV{sub|CTP} < 0.08' },
            { kind: 'line', y: 242, color: fitColors.low, text: 'Slope = \u22120.20**' }
        ]),
        legendGraphic(660, 705, [
            { kind: 'box', y: 600, color: boxColors.high, text: '0.16 \u2264 CV{sub|PCI}' },
            { kind: 'line', y: 637, color: fitColors.high, text: 'Slope = \u22120.78**' },
            { kind: 'box', y: 680, color: boxColors.mid, text: '0.08 \u2264 CV{sub|PCI} < 0.16' },
            { kind: 'line', y: 718, color: fitColors.mid, text: 'Slope = \u22120.38**' },
            { kind: 'box', y: 763, color: boxColors.low, text: 'CV{sub|PCI} < 0.08' },
            { kind: 'line', y: 796, color: fitColors.low, text: 'Slope = \u22120.17**' }
        ])
    ),
    series: [].concat(
        [boxSeries(0, aLow, -0.25, boxColors.low), boxSeries(0, aMid, 0, boxColors.mid), boxSeries(0, aHigh, 0.25, boxColors.high),
         fitSeries(0, aLineHigh, fitColors.high, 2.5), fitSeries(0, aLineMid, fitColors.mid, 2.5), fitSeries(0, aLineLow, fitColors.low, 2.5)],
        [boxSeries(1, bLow, -0.25, boxColors.low), boxSeries(1, bMid, 0, boxColors.mid), boxSeries(1, bHigh, 0.25, boxColors.high),
         fitSeries(1, bLineHigh, fitColors.high, 2.5), fitSeries(1, bLineMid, fitColors.mid, 2.5), fitSeries(1, bLineLow, fitColors.low, 2.5)],
        [tableSeries(2, cSlopes, { left: -1.61, right: -1.03, top: 1.98, bottom: -0.91 })],
        scatterSeries(2, [c_fs01, c_fs02, c_fs03, c_fs04, c_fs05, c_fs06], cLines),
        [tableSeries(3, dSlopes, { left: -1.62, right: -1.01, top: 2.01, bottom: -0.96 })],
        scatterSeries(3, [d_fs01, d_fs02, d_fs03, d_fs04, d_fs05, d_fs06], dLines),
        colorbarSeries(4),
        colorbarSeries(5)
    )
};

chart.setOption(option);
</script>
</body>
</html>
